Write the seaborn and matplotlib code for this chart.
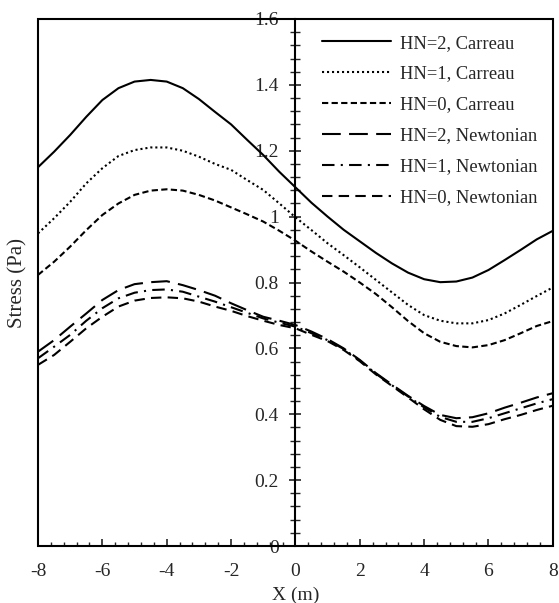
import matplotlib
matplotlib.use("Agg")
import matplotlib.pyplot as plt
import seaborn as sns
import pandas as pd
from matplotlib.patches import Rectangle
from matplotlib.ticker import MultipleLocator, FormatStrFormatter

x_pos = [-8, -7.5, -7, -6.5, -6, -5.5, -5, -4.5, -4, -3.5, -3, -2.5, -2, -1.5, -1, -0.5,
         0, 0.5, 1, 1.5, 2, 2.5, 3, 3.5, 4, 4.5, 5, 5.5, 6, 6.5, 7, 7.5, 8]

# stress values (Pa)
hn2_carreau = [1.150, 1.197, 1.248, 1.303, 1.354, 1.390, 1.410, 1.415, 1.410, 1.390, 1.357,
               1.318, 1.280, 1.233, 1.187, 1.136, 1.089, 1.042, 1.000, 0.960, 0.925, 0.890,
               0.858, 0.830, 0.810, 0.801, 0.803, 0.815, 0.838, 0.868, 0.899, 0.931, 0.957]
hn1_carreau = [0.949, 0.995, 1.045, 1.101, 1.147, 1.184, 1.202, 1.210, 1.210, 1.200, 1.182,
               1.160, 1.142, 1.111, 1.081, 1.040, 0.998, 0.959, 0.919, 0.883, 0.846, 0.808,
               0.770, 0.732, 0.701, 0.684, 0.676, 0.676, 0.686, 0.706, 0.732, 0.759, 0.785]
hn0_carreau = [0.823, 0.863, 0.909, 0.959, 1.005, 1.040, 1.066, 1.079, 1.083, 1.079, 1.066,
               1.049, 1.028, 1.007, 0.985, 0.957, 0.927, 0.894, 0.863, 0.833, 0.800, 0.765,
               0.725, 0.683, 0.646, 0.620, 0.607, 0.603, 0.610, 0.625, 0.646, 0.668, 0.683]
hn2_newton = [0.590, 0.625, 0.666, 0.706, 0.747, 0.777, 0.795, 0.801, 0.804, 0.792, 0.777,
              0.760, 0.737, 0.716, 0.696, 0.684, 0.671, 0.651, 0.628, 0.600, 0.565, 0.525,
              0.490, 0.456, 0.425, 0.398, 0.388, 0.391, 0.403, 0.420, 0.435, 0.451, 0.464]
hn1_newton = [0.570, 0.605, 0.641, 0.684, 0.722, 0.752, 0.769, 0.777, 0.779, 0.772, 0.757,
              0.742, 0.725, 0.708, 0.691, 0.678, 0.666, 0.646, 0.625, 0.598, 0.563, 0.523,
              0.488, 0.454, 0.421, 0.392, 0.377, 0.377, 0.388, 0.403, 0.418, 0.433, 0.446]
hn0_newton = [0.550, 0.580, 0.620, 0.661, 0.696, 0.727, 0.745, 0.753, 0.755, 0.752, 0.742,
              0.727, 0.714, 0.698, 0.684, 0.671, 0.661, 0.641, 0.622, 0.595, 0.561, 0.521,
              0.486, 0.451, 0.415, 0.383, 0.364, 0.362, 0.370, 0.385, 0.398, 0.413, 0.426]

labels = ["HN=2, Carreau", "HN=1, Carreau", "HN=0, Carreau",
          "HN=2, Newtonian", "HN=1, Newtonian", "HN=0, Newtonian"]
series = [hn2_carreau, hn1_carreau, hn0_carreau, hn2_newton, hn1_newton, hn0_newton]
styles = ["-", (0, (1, 1.4)), (0, (3, 1.6)), (0, (9, 4)), (0, (6, 3, 1, 3)), (0, (5, 3))]

sns.set_style("white")
plt.rcParams["font.family"] = ["Liberation Serif", "DejaVu Serif"]
plt.rcParams["font.size"] = 14

fig = plt.figure(figsize=(5.59, 6.03), dpi=100)
ax = fig.add_axes([0.068, 0.0945, 0.921, 0.874])

for lab, vals, ls in zip(labels, series, styles):
    df = pd.DataFrame({"x": x_pos, "y": vals})
    sns.lineplot(data=df, x="x", y="y", ax=ax, color="black", linewidth=1.5,
                 linestyle=ls, label=lab)

ax.set_xlim(-8, 8)
ax.set_ylim(0, 1.6)

# box around the plot, y axis runs through x = 0
for s in ["top", "right", "bottom"]:
    ax.spines[s].set_visible(False)
ax.spines["left"].set_position(("data", 0))
ax.spines["left"].set_linewidth(1.5)
ax.spines["left"].set_color("black")
ax.add_patch(Rectangle((0, 0), 1, 1, transform=ax.transAxes, fill=False,
                       edgecolor="black", linewidth=1.5, clip_on=False, zorder=5))

ax.xaxis.set_major_locator(MultipleLocator(2))
ax.xaxis.set_minor_locator(MultipleLocator(0.4))
ax.yaxis.set_major_locator(MultipleLocator(0.2))
ax.yaxis.set_minor_locator(MultipleLocator(0.04))
ax.yaxis.set_major_formatter(FormatStrFormatter("%g"))
ax.xaxis.set_major_formatter(FormatStrFormatter("%g"))

ax.tick_params(axis="x", which="major", direction="in", length=5, width=1.2, pad=12,
               bottom=True, top=False, labelsize=14)
ax.tick_params(axis="x", which="minor", direction="in", length=3, width=1.0,
               bottom=True, top=False)
ax.tick_params(axis="y", which="major", direction="inout", length=8, width=1.2, pad=8,
               left=True, right=False, labelsize=14)
ax.tick_params(axis="y", which="minor", direction="inout", length=7, width=1.0,
               left=True, right=False)

ax.set_xlabel("X (m)", fontsize=14, labelpad=5)
ax.set_ylabel("Stress (Pa)", fontsize=15)
ax.yaxis.set_label_coords(-0.02, 0.5)

ax.legend(loc="upper right", frameon=False, fontsize=13.3, handlelength=3.7,
          handletextpad=0.5, labelspacing=0.75, borderaxespad=0.45)

fig.savefig("out.png", dpi=100)
